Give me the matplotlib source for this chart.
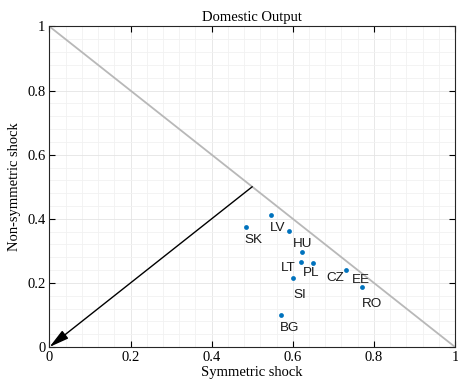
import matplotlib
matplotlib.use("Agg")
import matplotlib.pyplot as plt
from matplotlib.ticker import MultipleLocator

countries = ["SK", "LV", "HU", "LT", "PL", "CZ", "SI", "EE", "RO", "BG"]
sym = [0.485, 0.546, 0.590, 0.623, 0.621, 0.649, 0.601, 0.732, 0.770, 0.570]
nonsym = [0.374, 0.412, 0.362, 0.297, 0.266, 0.261, 0.214, 0.241, 0.187, 0.100]

# label offsets in pixels (text centre relative to the point)
offsets = [(7, -13), (7, -13), (14, -13), (-14, -16), (10, -11),
           (23, -15), (7, -17), (15, -10), (10, -17), (9, -13)]

serif = "Liberation Serif"
ticks = [0, 0.2, 0.4, 0.6, 0.8, 1]
tick_text = ["0", "0.2", "0.4", "0.6", "0.8", "1"]

fig = plt.figure(figsize=(4.58, 3.85), dpi=100)
ax = fig.add_axes([0.108, 0.0987, 0.8855, 0.8325])

ax.set_xlim(0, 1)
ax.set_ylim(0, 1)
ax.xaxis.set_minor_locator(MultipleLocator(0.04))
ax.yaxis.set_minor_locator(MultipleLocator(0.04))
ax.grid(which="major", color="#e4e4e4", lw=0.6)
ax.grid(which="minor", color="#f1f1f1", lw=0.6)
ax.set_axisbelow(True)
ax.set_xticks(ticks)
ax.set_xticklabels(tick_text, fontfamily=serif)
ax.set_yticks(ticks)
ax.set_yticklabels(tick_text, fontfamily=serif)
ax.tick_params(which="major", direction="in", length=4, width=0.8,
               top=True, right=True, labelsize=10.5, pad=3)
ax.tick_params(which="minor", length=0)
for s in ax.spines.values():
    s.set_color("#262626")
    s.set_linewidth(0.8)

ax.plot([0, 1], [1, 0], color="#b8b8b8", lw=1.3, zorder=2)
ax.annotate("", xy=(0, 0), xytext=(0.5, 0.5),
            arrowprops=dict(arrowstyle="-|>,head_length=1.0,head_width=0.25",
                            color="black", lw=1, mutation_scale=12,
                            shrinkA=0, shrinkB=0),
            zorder=3, annotation_clip=False)

ax.scatter(sym, nonsym, s=12, color="#0072BD", zorder=4, linewidths=0)
for name, x, y, off in zip(countries, sym, nonsym, offsets):
    ax.annotate(name, (x, y), xytext=off, textcoords="offset pixels",
                ha="center", va="center", fontsize=9.7,
                fontfamily="Liberation Sans", color="#1a1a1a")

ax.set_title("Domestic Output", fontfamily=serif, fontsize=10.5, pad=4)
ax.set_xlabel("Symmetric shock", fontfamily=serif, fontsize=10.5, labelpad=1)
ax.set_ylabel("Non-symmetric shock", fontfamily=serif, fontsize=10.5, labelpad=4)

fig.savefig("out.png", dpi=100)
